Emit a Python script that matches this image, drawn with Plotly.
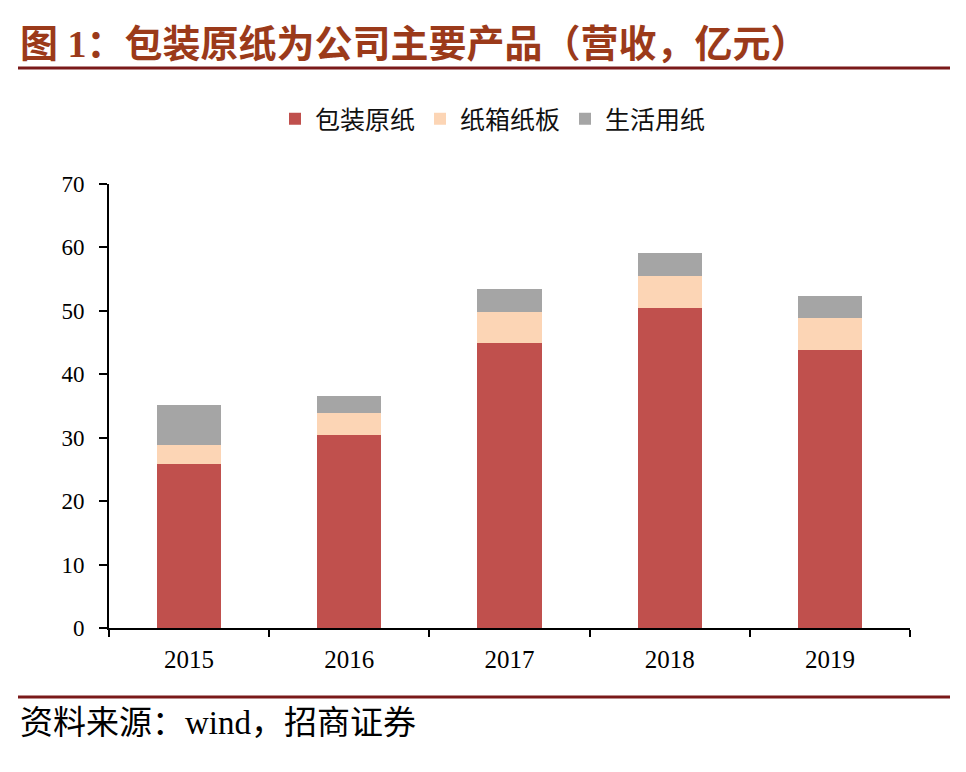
import plotly.graph_objects as go

years = ["2015", "2016", "2017", "2018", "2019"]
packaging_paper = [25.9, 30.4, 44.9, 50.5, 43.8]
carton_board = [3.0, 3.5, 4.9, 5.0, 5.0]
tissue_paper = [6.3, 2.7, 3.6, 3.7, 3.5]
series_names = ["包装原纸", "纸箱纸板", "生活用纸"]
series_colors = ["#C0504D", "#FCD5B5", "#A5A5A5"]
y_ticks = [0, 10, 20, 30, 40, 50, 60, 70]

W, H = 966, 772
OFF = 8  # page body margin
L, R, T, B = 109, 910, 184, 628  # plot area in reference pixels

def px_x(p):
    return (p - L) / (R - L)

def px_y(p):
    return (B - p) / (B - T)

fig = go.Figure()
for name, vals, col in zip(series_names, [packaging_paper, carton_board, tissue_paper], series_colors):
    fig.add_trace(go.Bar(x=years, y=vals, name=name, marker=dict(color=col, line=dict(width=0))))

serif = "Liberation Serif, Times New Roman, Noto Sans CJK SC"
cjk = "Noto Sans CJK SC"

fig.update_layout(
    width=W, height=H,
    margin=dict(l=L - OFF, r=W - R + OFF, t=T - OFF, b=H - B + OFF),
    barmode="stack", bargap=0.6,
    plot_bgcolor="white", paper_bgcolor="white",
    legend=dict(orientation="h", x=px_x(493), xanchor="center", y=px_y(119), yanchor="middle",
                font=dict(family=cjk, size=25, color="#111111"), itemwidth=30, traceorder="normal"),
    xaxis=dict(showline=True, linecolor="black", linewidth=2, ticks="outside", tickson="boundaries",
               ticklen=7, tickwidth=2, tickcolor="black", tickfont=dict(family=serif, size=25, color="black"),
               ticklabelstandoff=8, showgrid=False),
    yaxis=dict(range=[0, 70], tickvals=y_ticks, showline=True, linecolor="black", linewidth=2,
               ticks="outside", ticklen=8, tickwidth=2, tickcolor="black", showgrid=False, zeroline=False,
               ticklabelstandoff=10, tickfont=dict(family=serif, size=23, color="black")),
    shapes=[
        dict(type="line", xref="paper", yref="paper", x0=px_x(18), x1=px_x(950), y0=px_y(68), y1=px_y(68),
             line=dict(color="#7A1A1A", width=3)),
        dict(type="line", xref="paper", yref="paper", x0=px_x(18), x1=px_x(950), y0=px_y(697), y1=px_y(697),
             line=dict(color="#7A1A1A", width=3)),
    ],
    annotations=[
        dict(text="<b>图 1：包装原纸为公司主要产品（营收，亿元）</b>", xref="paper", yref="paper",
             x=px_x(18), y=px_y(44), xanchor="left", yanchor="middle", showarrow=False,
             font=dict(family=serif, size=38, color="#9B3A1A")),
        dict(text="资料来源：wind，招商证券", xref="paper", yref="paper",
             x=px_x(18), y=px_y(723), xanchor="left", yanchor="middle", showarrow=False,
             font=dict(family=serif, size=33, color="black")),
    ],
)

fig.write_html("out.html")
